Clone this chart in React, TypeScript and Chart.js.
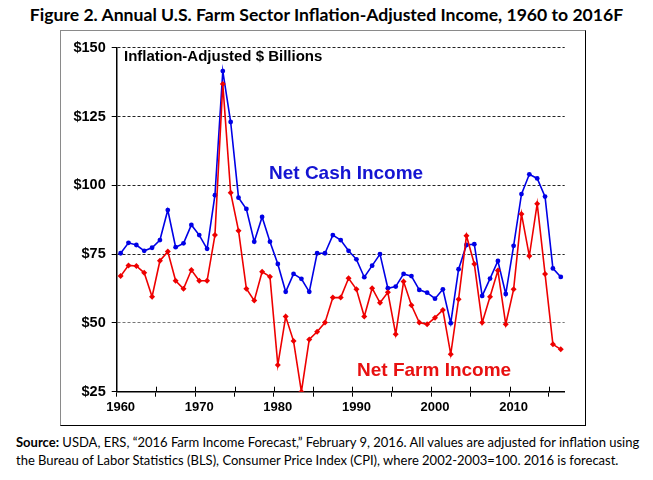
import React, { useEffect, useRef } from 'react';
import { Chart, registerables } from 'chart.js';
Chart.register(...registerables);

const years = [
  '1960','1961','1962','1963','1964','1965','1966','1967','1968','1969',
  '1970','1971','1972','1973','1974','1975','1976','1977','1978','1979',
  '1980','1981','1982','1983','1984','1985','1986','1987','1988','1989',
  '1990','1991','1992','1993','1994','1995','1996','1997','1998','1999',
  '2000','2001','2002','2003','2004','2005','2006','2007','2008','2009',
  '2010','2011','2012','2013','2014','2015','2016',
];

const netCashIncome = [
  75.3, 79.1, 78.3, 76.2, 77.3, 80.1, 91.0, 77.5, 78.9, 85.6,
  81.9, 76.9, 96.4, 141.5, 123.0, 95.5, 91.4, 79.5, 88.5, 79.5,
  71.4, 61.3, 67.8, 66.0, 61.3, 75.3, 75.3, 81.9, 80.1, 76.2,
  73.1, 66.6, 70.8, 75.0, 62.6, 63.2, 67.8, 67.0, 62.0, 61.0,
  58.8, 62.2, 49.9, 69.5, 78.3, 78.6, 59.8, 66.1, 72.5, 60.5,
  78.0, 96.8, 104.0, 102.5, 95.9, 69.8, 66.7,
];

const netFarmIncome = [
  67.0, 70.9, 70.7, 68.2, 59.5, 72.6, 75.9, 65.3, 62.4, 69.2,
  65.3, 65.3, 81.9, 136.8, 97.3, 83.5, 62.4, 58.1, 68.6, 66.8,
  34.7, 52.3, 43.4, 25.0, 44.0, 46.8, 50.1, 59.2, 59.2, 66.2,
  62.2, 52.3, 62.6, 57.3, 61.1, 45.9, 65.0, 56.4, 50.1, 49.5,
  51.9, 54.7, 38.6, 58.6, 81.7, 71.4, 50.1, 59.5, 69.0, 49.5,
  62.2, 89.6, 74.3, 93.3, 67.8, 42.2, 40.4,
];

const yMin = 25;
const yMax = 150;
const yStep = 25;

const crossTicks = {
  id: 'crossTicks',
  afterDatasetsDraw(chart: any) {
    const xs = chart.scales.x;
    const ctx = chart.ctx;
    const bottom = chart.chartArea.bottom;
    ctx.save();
    ctx.strokeStyle = '#000';
    ctx.lineWidth = 1;
    for (let i = 5; i < years.length; i += 5) {
      const px = Math.round(xs.getPixelForValue(i - 0.5)) + 0.5;
      ctx.beginPath();
      ctx.moveTo(px, bottom);
      ctx.lineTo(px, bottom - 5);
      ctx.stroke();
    }
    ctx.restore();
  },
};

function ChartCanvas() {
  const ref = useRef<HTMLCanvasElement | null>(null);
  useEffect(() => {
    if (!ref.current) return;
    const chart = new Chart(ref.current, {
      type: 'line',
      data: {
        labels: years,
        datasets: [
          {
            label: 'Net Farm Income',
            data: netFarmIncome,
            borderColor: '#ee0000',
            backgroundColor: '#ee0000',
            borderWidth: 1.6,
            pointStyle: 'rectRot',
            pointRadius: 3,
            pointBorderWidth: 0,
            tension: 0,
          },
          {
            label: 'Net Cash Income',
            data: netCashIncome,
            borderColor: '#0000e6',
            backgroundColor: '#0000e6',
            borderWidth: 1.6,
            pointStyle: 'circle',
            pointRadius: 2.4,
            pointBorderWidth: 0,
            tension: 0,
          },
        ],
      },
      options: {
        responsive: false,
        animation: false,
        devicePixelRatio: 1,
        layout: { padding: { left: 0, right: 20.3, top: 16.7, bottom: 0 } },
        plugins: {
          legend: { display: false },
          tooltip: { enabled: false },
          title: { display: false },
        },
        scales: {
          x: {
            type: 'category',
            offset: true,
            afterFit: (s: any) => { s.height = 33.3; },
            grid: {
              offset: true,
              drawOnChartArea: false,
              drawTicks: true,
              tickLength: 5,
              tickColor: (c: any) => (c.index % 5 === 0 ? '#000' : 'rgba(0,0,0,0)'),
            },
            border: { display: true, color: '#000', width: 1.5 },
            ticks: {
              autoSkip: false,
              maxRotation: 0,
              minRotation: 0,
              padding: 3,
              color: '#000',
              font: { family: 'Arial, "Liberation Sans", sans-serif', size: 13, weight: 'bold' },
              callback: (_v: any, i: number) => (i % 10 === 0 ? years[i] : ''),
            },
          },
          y: {
            min: yMin,
            max: yMax,
            afterFit: (s: any) => { s.width = 55.7; },
            grid: {
              drawTicks: true,
              tickLength: 5,
              tickColor: '#000',
              color: (c: any) => {
                const v = c.tick ? c.tick.value : 0;
                if (v === yMin) return 'rgba(0,0,0,0)';
                if (v === 50) return '#777';
                return '#222';
              },
              lineWidth: 1,
            },
            border: { display: true, color: '#000', width: 1.5, dash: [3, 2] },
            ticks: {
              stepSize: yStep,
              padding: 6,
              color: '#000',
              font: { family: 'Arial, "Liberation Sans", sans-serif', size: 14.5, weight: 'bold' },
              callback: (v: any) => '$' + v,
            },
          },
        },
      },
      plugins: [crossTicks],
    });
    return () => chart.destroy();
  }, []);
  return (
    <canvas
      ref={ref}
      width={524}
      height={394}
      style={{ position: 'absolute', left: 61, top: 31, width: 524, height: 394 }}
    />
  );
}

export default function App() {
  const arial = 'Arial, "Liberation Sans", sans-serif';
  const gill = 'Lato, "Open Sans", sans-serif';
  return (
    <div style={{ position: 'absolute', left: 0, top: 0, width: 653, height: 480, background: '#fff', overflow: 'hidden' }}>
      <div
        style={{
          position: 'absolute', left: 0, top: 4, width: 653, textAlign: 'center',
          fontFamily: gill, fontWeight: 700, fontSize: 17.6, color: '#000', whiteSpace: 'nowrap',
        }}
      >
        Figure 2. Annual U.S. Farm Sector Inflation-Adjusted Income, 1960 to 2016F
      </div>
      <div
        style={{
          position: 'absolute', left: 60, top: 30, width: 526, height: 396, boxSizing: 'border-box',
          borderLeft: '1px solid #8a8a8a', borderTop: '1px solid #8a8a8a',
          borderRight: '1.5px solid #000', borderBottom: '1.5px solid #000',
        }}
      />
      <ChartCanvas />
      <div style={{ position: 'absolute', left: 124, top: 47, fontFamily: arial, fontWeight: 700, fontSize: 15, color: '#000', whiteSpace: 'nowrap' }}>
        Inflation-Adjusted $ Billions
      </div>
      <div style={{ position: 'absolute', left: 269, top: 162, fontFamily: arial, fontWeight: 700, fontSize: 19, color: '#1414d2', whiteSpace: 'nowrap' }}>
        Net Cash Income
      </div>
      <div style={{ position: 'absolute', left: 357, top: 359, fontFamily: arial, fontWeight: 700, fontSize: 19, color: '#e81010', whiteSpace: 'nowrap' }}>
        Net Farm Income
      </div>
      <div
        style={{
          position: 'absolute', left: 16, top: 433, fontFamily: gill, fontSize: 13, lineHeight: '18px',
          color: '#000', whiteSpace: 'nowrap',
        }}
      >
        <div><b>Source:</b> USDA, ERS, “2016 Farm Income Forecast,” February 9, 2016. All values are adjusted for inflation using</div>
        <div>the Bureau of Labor Statistics (BLS), Consumer Price Index (CPI), where 2002-2003=100. 2016 is forecast.</div>
      </div>
    </div>
  );
}
